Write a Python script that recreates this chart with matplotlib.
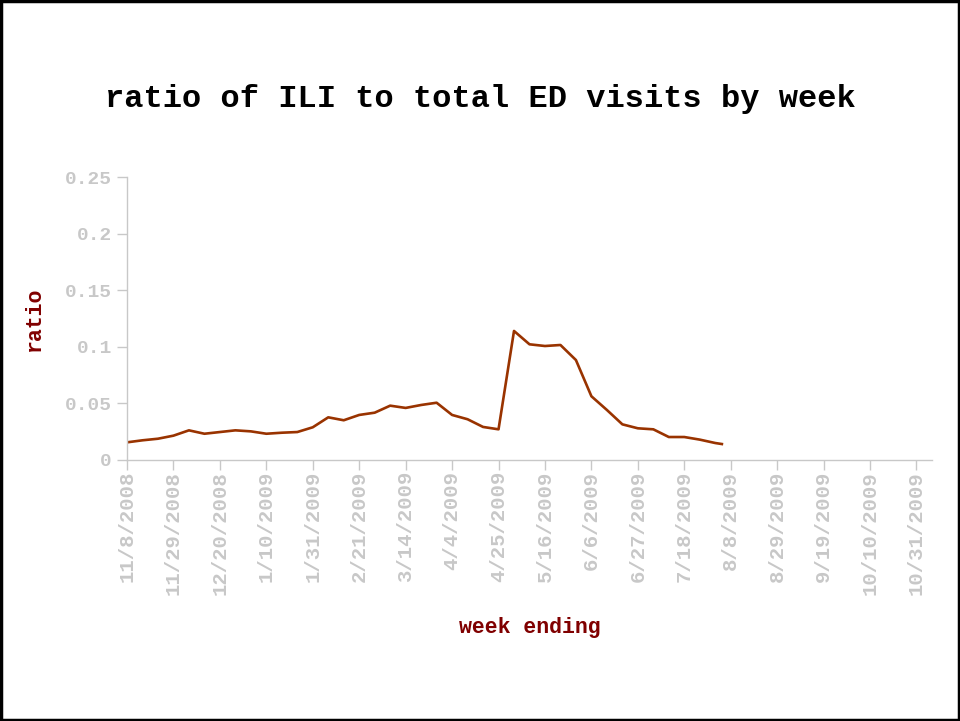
import numpy as np
import pandas as pd
import matplotlib
matplotlib.use("Agg")
import matplotlib.pyplot as plt
import matplotlib.dates as mdates

# weekly ratio of ILI to total ED visits (week ending dates)
week_dates = list(pd.date_range("2008-11-08", periods=39, freq="7D")) + [pd.Timestamp("2009-08-04")]
ratio = [
    0.0156, 0.0174, 0.0188, 0.0215, 0.0262, 0.0232, 0.0247, 0.0262, 0.0253, 0.0232,
    0.0241, 0.0247, 0.0289, 0.0377, 0.0351, 0.0398, 0.0418, 0.0480, 0.0460, 0.0486,
    0.0506, 0.0398, 0.0360, 0.0292, 0.0271, 0.1140, 0.1022, 0.1007, 0.1016, 0.0883,
    0.0563, 0.0442, 0.0315, 0.0280, 0.0271, 0.0203, 0.0203, 0.0180, 0.0150, 0.0141,
]

tick_dates = pd.date_range("2008-11-08", "2009-10-31", freq="21D")
tick_labels = [f"{d.month}/{d.day}/{d.year}" for d in tick_dates]
y_ticks = [0, 0.05, 0.1, 0.15, 0.2, 0.25]
y_labels = ["0", "0.05", "0.1", "0.15", "0.2", "0.25"]

font = "Liberation Mono"
gray = "#c4c4c4"
label_red = "#800000"

fig = plt.figure(figsize=(9.6, 7.21), dpi=100)
ax = fig.add_axes([0.1323, 0.362, 0.8385, 0.3925])

ax.plot(week_dates, ratio, color="#993300", linewidth=1.9)

ax.set_xlim(pd.Timestamp("2008-11-08"), pd.Timestamp("2009-11-07"))
ax.set_ylim(0, 0.25)
ax.set_xticks(tick_dates)
ax.set_xticklabels(tick_labels, rotation=90, va="top", ha="center")
ax.set_yticks(y_ticks)
ax.set_yticklabels(y_labels)

for lab in ax.get_yticklabels():
    lab.set_fontfamily(font)
    lab.set_fontweight("bold")
    lab.set_fontsize(14)
    lab.set_color(gray)
for lab in ax.get_xticklabels():
    lab.set_fontfamily(font)
    lab.set_fontweight("bold")
    lab.set_fontsize(14.9)
    lab.set_color(gray)

ax.tick_params(axis="both", colors="#c8c8c8", length=7, width=1)
ax.tick_params(axis="x", pad=1)
ax.tick_params(axis="y", pad=4)
for s in ["top", "right"]:
    ax.spines[s].set_visible(False)
for s in ["left", "bottom"]:
    ax.spines[s].set_color("#c8c8c8")
    ax.spines[s].set_linewidth(1)

ax.set_ylabel("ratio", family=font, fontweight="bold", fontsize=15.5,
              color=label_red)
ax.yaxis.set_label_coords(-0.102, 0.5)
fig.text(0.552, 0.13, "week ending", family=font, fontweight="bold",
         fontsize=15.5, color=label_red, ha="center", va="center")

fig.text(0.5, 0.863, "ratio of ILI to total ED visits by week", family=font,
         fontweight="bold", fontsize=23, color="black", ha="center", va="center")

# black frame around the whole picture
fig.patches.append(plt.Rectangle((0.001, 0.002), 0.998, 0.996, transform=fig.transFigure,
                                 fill=False, edgecolor="black", linewidth=2.5))

fig.savefig("out.png", dpi=100)
